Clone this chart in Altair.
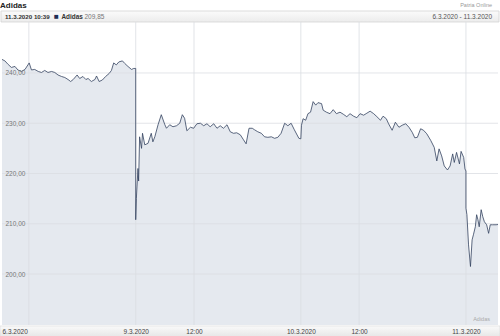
import altair as alt
import pandas as pd

# ---------------- data ----------------
DAYS = ["6.3.2020", "9.3.2020", "10.3.2020", "11.3.2020"]
DAY_HOURS = 8.5          # trading session 09:00 - 17:30
OPEN_HOUR = 9

TIMES_0603 = ["10:37", "10:46", "10:56", "11:06", "11:17", "11:26", "11:37", "11:48",
              "12:01", "12:08", "12:18", "12:29", "12:39", "12:49", "12:59", "13:10",
              "13:20", "13:30", "13:41", "13:51", "14:01", "14:09", "14:17", "14:29",
              "14:37", "14:47", "14:56", "15:03", "15:13", "15:24", "15:29", "15:37",
              "15:47", "15:57", "16:08", "16:15", "16:22", "16:30", "16:38", "16:49",
              "16:56", "17:06", "17:17", "17:24", "17:30"]
PRICES_0603 = [242.7, 242.4, 241.7, 241.1, 241.3, 240.6, 240.3, 240.7,
               242.0, 240.6, 240.7, 240.3, 240.1, 240.5, 240.1, 240.3,
               240.1, 239.6, 239.3, 239.1, 238.7, 238.3, 238.7, 239.6,
               238.9, 239.3, 238.7, 238.9, 238.3, 238.7, 239.4, 238.3,
               238.6, 239.3, 239.9, 240.5, 242.0, 241.6, 242.2, 242.4,
               241.9, 241.3, 240.7, 240.9, 240.9]

TIMES_0903 = ["09:00", "09:02", "09:04", "09:07", "09:09", "09:12", "09:18", "09:21",
              "09:28", "09:38", "09:48", "09:53", "09:59", "10:09", "10:19", "10:30",
              "10:35", "10:45", "10:55", "11:06", "11:16", "11:24", "11:31", "11:38",
              "11:49", "11:59", "12:09", "12:20", "12:30", "12:40", "12:50", "13:01",
              "13:11", "13:21", "13:31", "13:42", "13:52", "14:02", "14:12", "14:23",
              "14:33", "14:41", "14:50", "15:00", "15:07", "15:17", "15:28", "15:38",
              "15:48", "15:59", "16:09", "16:19", "16:29", "16:40", "16:50", "17:00",
              "17:10", "17:24", "17:30"]
PRICES_0903 = [210.8, 215.0, 217.5, 221.0, 218.5, 227.3, 225.0, 228.0,
               225.7, 226.0, 228.0, 226.3, 227.3, 229.7, 231.7, 229.7,
               229.0, 229.7, 229.3, 229.5, 230.0, 231.7, 231.0, 228.5,
               229.2, 229.0, 229.9, 230.0, 229.5, 229.9, 229.3, 229.9,
               229.0, 229.5, 229.0, 229.7, 228.3, 228.0, 228.1, 227.7,
               226.7, 225.9, 229.0, 229.0, 228.7, 228.3, 228.0, 227.3,
               227.2, 227.3, 227.0, 227.2, 228.0, 230.0, 229.5, 230.0,
               228.7, 227.0, 226.9]

TIMES_1003 = ["09:02", "09:07", "09:15", "09:22", "09:30", "09:38", "09:46", "09:53",
              "10:04", "10:09", "10:19", "10:30", "10:40", "10:50", "11:01", "11:11",
              "11:22", "11:32", "11:43", "11:53", "12:03", "12:14", "12:24", "12:34",
              "12:45", "12:55", "13:06", "13:14", "13:24", "13:31", "13:42", "13:52",
              "14:03", "14:13", "14:24", "14:34", "14:44", "14:52", "15:00", "15:10",
              "15:19", "15:29", "15:41", "15:52", "16:00", "16:07", "16:15", "16:23",
              "16:33", "16:41", "16:49", "16:54", "17:01", "17:10", "17:15", "17:23",
              "17:27", "17:30"]
PRICES_1003 = [229.6, 230.9, 230.6, 231.9, 232.2, 234.3, 233.6, 234.1,
               233.9, 232.6, 232.2, 231.9, 232.7, 231.9, 232.2, 231.8,
               231.3, 231.9, 231.4, 231.1, 231.9, 231.6, 232.0, 232.4,
               231.9, 231.3, 230.6, 231.4, 230.9, 229.9, 228.6, 230.2,
               229.2, 229.6, 229.9, 229.2, 228.2, 227.1, 227.2, 228.9,
               228.6, 227.9, 226.6, 225.2, 222.5, 224.9, 223.5, 221.5,
               220.7, 221.5, 223.9, 222.2, 224.2, 221.9, 224.4, 223.2,
               220.9, 220.5]

TIMES_1103 = ["09:00", "09:03", "09:08", "09:14", "09:19", "09:23", "09:29", "09:33",
              "09:37", "09:41", "09:47", "09:52", "09:57", "10:04", "10:10", "10:15",
              "10:22", "10:33", "10:39"]
PRICES_1103 = [213.1, 211.8, 205.8, 201.5, 206.8, 207.8, 209.4, 211.8,
               210.8, 209.4, 212.8, 211.4, 210.4, 209.8, 208.1, 209.8,
               209.8, 209.8, 209.85]

Y_GRID = [200, 210, 220, 230, 240]
X_GRID = [(0, "12:00"), (1, "09:00"), (1, "12:00"), (2, "09:00"), (2, "12:00"), (3, "09:00")]
X_TICKS = [(0, "10:37", "6.3.2020"), (1, "09:00", "9.3.2020"), (1, "12:00", "12:00"),
           (2, "09:00", "10.3.2020"), (2, "12:00", "12:00"), (3, "09:00", "11.3.2020")]

TITLE = "Adidas"
SOURCE = "Patria Online"
LAST_STAMP = "11.3.2020 10:39"
LAST_VALUE = "209,85"
RANGE_TEXT = "6.3.2020 - 11.3.2020"


def trading_t(day, hhmm):
    h, m = hhmm.split(":")
    return day * DAY_HOURS + (int(h) - OPEN_HOUR) + int(m) / 60.0


rows = []
for d, (ts, ps) in enumerate([(TIMES_0603, PRICES_0603), (TIMES_0903, PRICES_0903),
                              (TIMES_1003, PRICES_1003), (TIMES_1103, PRICES_1103)]):
    for t, p in zip(ts, ps):
        rows.append({"t": trading_t(d, t), "v": p, "label": f"{DAYS[d]} {t}"})
df = pd.DataFrame(rows)

T_MIN, T_MAX = df["t"].min(), df["t"].max()
Y_MIN, Y_MAX = 189.86, 250.14

vgrid = pd.DataFrame({"t": [trading_t(d, t) for d, t in X_GRID]})
hgrid = pd.DataFrame({"v": Y_GRID})
tick_vals = [trading_t(d, t) for d, t, _ in X_TICKS]
tick_labels = [lab for _, _, lab in X_TICKS]

expr = "''"
for v, lab in reversed(list(zip(tick_vals, tick_labels))):
    expr = f"abs(datum.value - {v:.5f}) < 0.01 ? '{lab}' : ({expr})"

W, H = 496, 303
FONT = "Liberation Sans"

xs = alt.Scale(domain=[T_MIN, T_MAX], nice=False, zero=False)
ys = alt.Scale(domain=[Y_MIN, Y_MAX], nice=False, zero=False)

x_axis = alt.Axis(values=tick_vals, labelExpr=expr, grid=False, domain=False, ticks=False,
                  tickSize=0, labelPadding=6, labelBaseline="middle", labelFlush=True,
                  labelFontSize=6.5, labelColor="#444", labelFont=FONT, title=None,
                  labelOverlap=False, zindex=1)
y_axis = alt.Axis(values=Y_GRID, labelExpr="replace(format(datum.value, '.2f'), '.', ',')",
                  grid=False, domain=False, ticks=False, tickSize=0, labelPadding=-3,
                  labelAlign="left", labelBaseline="middle", labelFontSize=6.5,
                  labelColor="#777", labelFont=FONT, title=None, zindex=1)

one = pd.DataFrame({"s": [""]})


def deco_text(s, x, y, **kw):
    return alt.Chart(pd.DataFrame({"s": [s]})).mark_text(font=FONT, **kw).encode(
        x=alt.value(x), y=alt.value(y), text="s:N")


header_bar = alt.Chart(one).mark_rect(
    color=alt.Gradient(gradient="linear", x1=0, x2=0, y1=0, y2=1,
                       stops=[alt.GradientStop(color="#fbfbfb", offset=0),
                              alt.GradientStop(color="#ececec", offset=1)]),
    stroke="#d4d4d4", strokeWidth=0.8
).encode(x=alt.value(-1), x2=alt.value(W + 1), y=alt.value(-11), y2=alt.value(0))

bottom_bar = alt.Chart(one).mark_rect(
    color=alt.Gradient(gradient="linear", x1=0, x2=0, y1=0, y2=1,
                       stops=[alt.GradientStop(color="#fafafa", offset=0),
                              alt.GradientStop(color="#e6e6e6", offset=1)]),
    stroke="#d8d8d8", strokeWidth=0.6
).encode(x=alt.value(-2), x2=alt.value(W + 2), y=alt.value(H + 1), y2=alt.value(H + 12))

area = alt.Chart(df).mark_area(color="#e5e9ef", opacity=1).encode(
    x=alt.X("t:Q", scale=xs, axis=x_axis),
    y=alt.Y("v:Q", scale=ys, axis=y_axis),
    y2=alt.Y2(datum=Y_MIN),
)

vrules = alt.Chart(vgrid).mark_rule(color="#dadde2", strokeWidth=0.8).encode(
    x=alt.X("t:Q", scale=xs))
hrules = alt.Chart(hgrid).mark_rule(color="#dadde2", strokeWidth=0.8).encode(
    y=alt.Y("v:Q", scale=ys))

line = alt.Chart(df).mark_line(color="#34435f", strokeWidth=0.8, interpolate="linear").encode(
    x=alt.X("t:Q", scale=xs),
    y=alt.Y("v:Q", scale=ys),
)

texts = [
    deco_text(TITLE, -2, -16, align="left", baseline="middle", fontSize=8,
              fontWeight="bold", color="#222"),
    deco_text(SOURCE, W - 6, -17, align="right", baseline="middle", fontSize=5.5,
              color="#999"),
    deco_text(LAST_STAMP, 3, -5.5, align="left", baseline="middle", fontSize=6.2,
              fontWeight="bold", color="#333"),
    deco_text("\u25A0", 52, -5.5, align="left", baseline="middle", fontSize=8,
              color="#1d2f55"),
    deco_text(TITLE, 59.5, -5.5, align="left", baseline="middle", fontSize=6.4,
              fontWeight="bold", color="#333"),
    deco_text(LAST_VALUE, 82.5, -5.5, align="left", baseline="middle", fontSize=6.5,
              color="#777"),
    deco_text(RANGE_TEXT, W - 6, -5.5, align="right", baseline="middle", fontSize=6.5,
              color="#555"),
    deco_text(TITLE, W - 8, H - 6.5, align="right", baseline="middle", fontSize=5.5,
              color="#aaa"),
]

chart = alt.layer(header_bar, bottom_bar, area, vrules, hrules, line, *texts).properties(
    width=W, height=H,
    autosize=alt.AutoSizeParams(type="none"),
    padding={"left": 2, "top": 22, "right": 2, "bottom": 11},
    background="white",
).configure_view(stroke=None).configure_axis(labelFont=FONT)

chart.save("out.html", embed_options={"renderer": "svg", "actions": False})
